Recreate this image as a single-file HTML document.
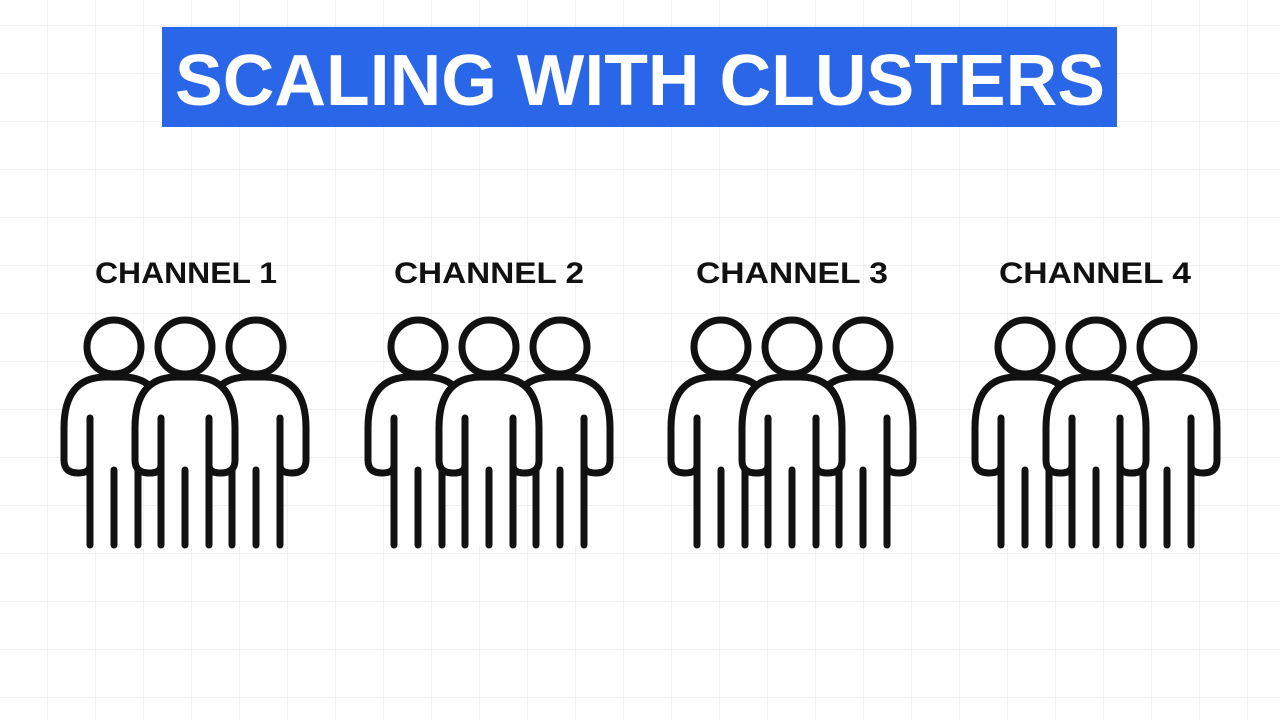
<!DOCTYPE html>
<html><head><meta charset="utf-8"><style>
html,body{margin:0;padding:0;background:#fff}
svg{display:block}
</style></head><body>
<svg width="1280" height="720" viewBox="0 0 1280 720" xmlns="http://www.w3.org/2000/svg">
<defs>
<pattern id="g" width="48" height="48" patternUnits="userSpaceOnUse" x="-1" y="25">
<path d="M0 0H48M0 0V48" stroke="#f0f0f0" stroke-width="2" fill="none"/>
</pattern>
<g id="p">
<circle cx="0" cy="347" r="27" fill="#fff" stroke="#111" stroke-width="7"/>
<path d="M-24 545 L-24 465 Q-24 473 -36 473 Q-50 473 -50 460 L-50 428 Q-50 377 -8 377 L8 377 Q50 377 50 428 L50 460 Q50 473 36 473 Q24 473 24 465 L24 545 L-24 545 Z" fill="#fff" stroke="none"/>
<path d="M-24 545 L-24 465 Q-24 473 -36 473 Q-50 473 -50 460 L-50 428 Q-50 377 -8 377 L8 377 Q50 377 50 428 L50 460 Q50 473 36 473 Q24 473 24 465 L24 545 M-24 418 L-24 466 M24 418 L24 466 M0 470 L0 545" fill="none" stroke="#111" stroke-width="7" stroke-linecap="round" stroke-linejoin="round"/>
</g>
<g id="grp">
<use href="#p" x="-71"/>
<use href="#p" x="71"/>
<use href="#p" x="0"/>
</g>
</defs>
<rect width="1280" height="720" fill="url(#g)"/>
<rect x="162" y="27" width="955" height="100" fill="#2a66e8"/>
<text x="640" y="105" text-anchor="middle" font-family="Liberation Sans, sans-serif" font-weight="bold" font-size="72" fill="#fff" textLength="930" lengthAdjust="spacingAndGlyphs">SCALING WITH CLUSTERS</text>
<g font-family="Liberation Sans, sans-serif" font-weight="bold" font-size="30" fill="#111" text-anchor="middle">
<text x="186" y="283" textLength="182" lengthAdjust="spacingAndGlyphs">CHANNEL 1</text>
<text x="489" y="283" textLength="190" lengthAdjust="spacingAndGlyphs">CHANNEL 2</text>
<text x="792" y="283" textLength="192" lengthAdjust="spacingAndGlyphs">CHANNEL 3</text>
<text x="1095" y="283" textLength="192" lengthAdjust="spacingAndGlyphs">CHANNEL 4</text>
</g>
<use href="#grp" x="185"/>
<use href="#grp" x="489"/>
<use href="#grp" x="792"/>
<use href="#grp" x="1096"/>
</svg>
</body></html>
